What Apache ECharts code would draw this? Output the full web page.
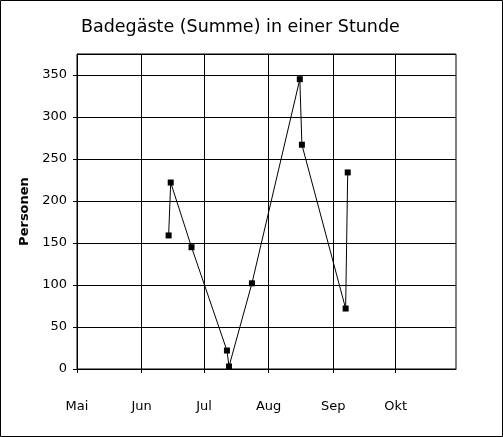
<!DOCTYPE html>
<html>
<head>
<meta charset="utf-8">
<script src="https://cdn.jsdelivr.net/npm/echarts@6/dist/echarts.min.js"></script>
<style>
  html, body { margin: 0; padding: 0; background: #fff; }
  #chart { width: 503px; height: 437px; }
</style>
</head>
<body>
<div id="chart"></div>
<script>
const dates = ['2003-06-14', '2003-06-15', '2003-06-25', '2003-07-12', '2003-07-13',
  '2003-07-24', '2003-08-16', '2003-08-17', '2003-09-07', '2003-09-08']
const persons = [159, 222, 145, 22, 3, 102, 345, 267, 72, 234]
const monthStarts = ['2003-05-01', '2003-06-01', '2003-07-01', '2003-08-01', '2003-09-01', '2003-10-01']
const monthNames = ['Jan', 'Feb', 'Mär', 'Apr', 'Mai', 'Jun', 'Jul', 'Aug', 'Sep', 'Okt', 'Nov', 'Dez']
const xMin = '2003-05-01'
const xMax = '2003-10-30'
const yTicks = { min: 0, max: 375, step: 50 }

const font = 'DejaVu Sans, Verdana, sans-serif'
const ts = s => echarts.time.parse(s).getTime()
const monthTicks = monthStarts.map(ts)
const chart = echarts.init(document.getElementById('chart'))

chart.setOption({
  animation: false,
  backgroundColor: '#fff',
  textStyle: { fontFamily: font, color: '#000' },
  title: {
    text: 'Badegäste (Summe) in einer Stunde',
    left: 76,
    top: 13,
    textStyle: { fontFamily: font, fontSize: 17.5, fontWeight: 'normal', color: '#000' }
  },
  grid: {
    left: 77, right: 47, top: 54, bottom: 68,
    show: true, borderColor: '#000', borderWidth: 1
  },
  xAxis: {
    type: 'value',
    min: ts(xMin),
    max: ts(xMax),
    axisLine: { show: true, lineStyle: { color: '#000', width: 1 } },
    axisTick: { show: true, customValues: monthTicks, length: 4, lineStyle: { color: '#000', width: 1 } },
    splitLine: { show: true, lineStyle: { color: '#000', width: 1 } },
    axisLabel: {
      customValues: monthTicks,
      margin: 31,
      fontSize: 13,
      fontFamily: font,
      color: '#000',
      formatter: v => monthNames[new Date(v).getMonth()]
    }
  },
  yAxis: {
    type: 'value',
    min: yTicks.min,
    max: yTicks.max,
    interval: yTicks.step,
    name: 'Personen',
    nameLocation: 'middle',
    nameGap: 46,
    nameTextStyle: { fontFamily: font, fontSize: 13, fontWeight: 'bold', color: '#000' },
    axisLine: { show: true, lineStyle: { color: '#000', width: 1 } },
    axisTick: { show: true, length: 4, lineStyle: { color: '#000' } },
    splitLine: { show: true, lineStyle: { color: '#000', width: 1 } },
    axisLabel: {
      margin: 10,
      fontSize: 13,
      fontFamily: font,
      color: '#000',
      showMaxLabel: false
    }
  },
  series: [{
    type: 'line',
    data: dates.map((d, i) => [ts(d), persons[i]]),
    symbol: 'rect',
    symbolSize: 6,
    itemStyle: { color: '#000' },
    lineStyle: { color: '#000', width: 1 }
  }],
  graphic: [{
    type: 'rect',
    shape: { x: 0.5, y: 0.5, width: 502, height: 436 },
    style: { fill: 'none', stroke: '#000', lineWidth: 1 },
    silent: true
  }]
})
</script>
</body>
</html>
